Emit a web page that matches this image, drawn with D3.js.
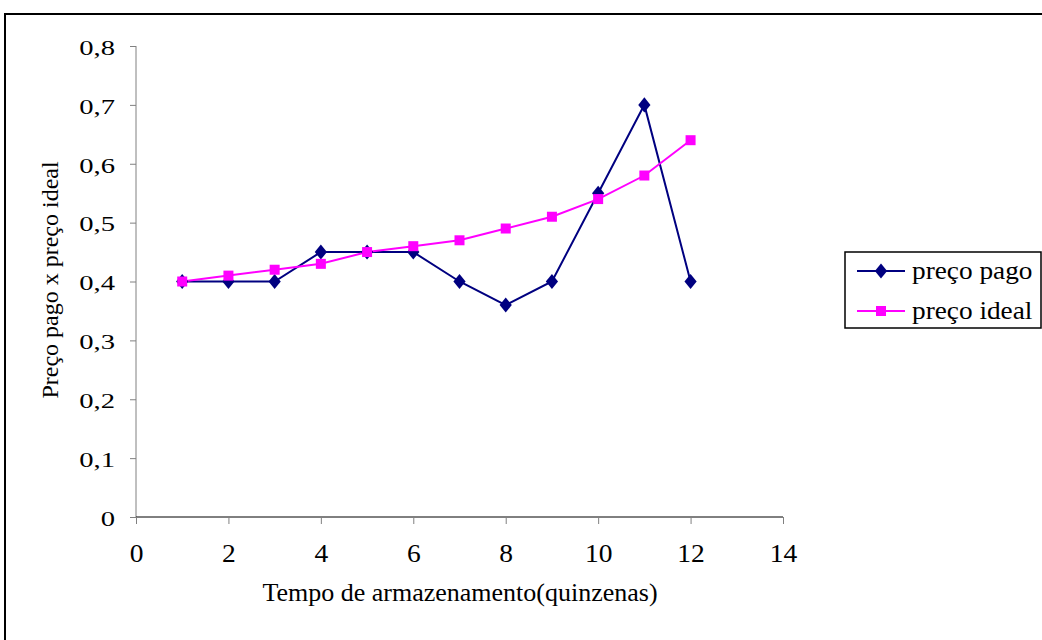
<!DOCTYPE html>
<html>
<head>
<meta charset="utf-8">
<script src="https://cdn.jsdelivr.net/npm/d3@7"></script>
<style>
  body { margin: 0; background: #fff; }
  svg text { font-family: "Liberation Serif", "Times New Roman", serif; fill: #000; }
</style>
</head>
<body>
<script>
const quinzenas = [1, 2, 3, 4, 5, 6, 7, 8, 9, 10, 11, 12];
const precoPago = [0.4, 0.4, 0.4, 0.45, 0.45, 0.45, 0.4, 0.36, 0.4, 0.55, 0.7, 0.4];
const precoIdeal = [0.4, 0.41, 0.42, 0.43, 0.45, 0.46, 0.47, 0.49, 0.51, 0.54, 0.58, 0.64];
const xTicks = [0, 2, 4, 6, 8, 10, 12, 14];
const yTicks = [0, 0.1, 0.2, 0.3, 0.4, 0.5, 0.6, 0.7, 0.8];

const width = 1042, height = 640;
const serif = '"Liberation Serif", "Times New Roman", serif';
const svg = d3.select('body').append('svg')
  .attr('width', width)
  .attr('height', height);

// the original picture is a bit wider than tall, stretch text horizontally
function stretch(sel, k) {
  sel.attr('transform', function() {
    const x0 = +d3.select(this).attr('x') || 0;
    return `translate(${x0},0) scale(${k},1) translate(${-x0},0)`;
  });
}

// outer frame (runs off the right and bottom edge)
svg.append('rect')
  .attr('x', 5).attr('y', 14)
  .attr('width', 1060).attr('height', 660)
  .attr('fill', 'none')
  .attr('stroke', '#000')
  .attr('stroke-width', 2);

const x = d3.scaleLinear().domain([0, 14]).range([136, 783]);
const y = d3.scaleLinear().domain([0, 0.8]).range([517, 46]);
const fmt = d => d === 0 ? '0' : d3.format('.1f')(d).replace('.', ',');

// y axis
const yAxis = svg.append('g')
  .attr('transform', 'translate(136,0)')
  .call(d3.axisLeft(y).tickValues(yTicks).tickSize(6).tickPadding(15).tickFormat(fmt));
yAxis.select('.domain').attr('stroke', '#808080').attr('d', 'M0,46V517');
yAxis.selectAll('.tick line').attr('stroke', '#808080');
yAxis.selectAll('.tick text')
  .attr('dy', '0.38em')
  .style('font-family', serif)
  .style('font-size', '22px')
  .style('fill', '#000')
  .call(stretch, 1.3);

// x axis
const xAxis = svg.append('g')
  .attr('transform', 'translate(0,517)')
  .call(d3.axisBottom(x).tickValues(xTicks).tickSize(7).tickPadding(20));
xAxis.select('.domain').attr('stroke', '#000').attr('d', 'M136,0H783');
xAxis.selectAll('.tick line').attr('stroke', '#808080');
xAxis.selectAll('.tick text')
  .style('font-family', serif)
  .style('font-size', '25px')
  .style('fill', '#000')
  .call(stretch, 1.1);

// axis titles
svg.append('text')
  .attr('x', 460).attr('y', 601)
  .attr('text-anchor', 'middle')
  .style('font-size', '26px')
  .text('Tempo de armazenamento(quinzenas)');
svg.append('text')
  .attr('transform', 'translate(58,280) rotate(-90)')
  .attr('text-anchor', 'middle')
  .style('font-size', '24px')
  .text('Preço pago x preço ideal');

const line = d3.line().x(d => x(d[0])).y(d => y(d[1]));

const pago = quinzenas.map((q, i) => [q, precoPago[i]]);
const ideal = quinzenas.map((q, i) => [q, precoIdeal[i]]);

svg.append('path').datum(pago)
  .attr('d', line).attr('fill', 'none')
  .attr('stroke', '#000080').attr('stroke-width', 2);
svg.append('path').datum(ideal)
  .attr('d', line).attr('fill', 'none')
  .attr('stroke', '#ff00ff').attr('stroke-width', 2);

const diamond = d3.symbol().type(d3.symbolDiamond).size(90);
svg.selectAll('.m-pago').data(pago).enter().append('path')
  .attr('class', 'm-pago')
  .attr('transform', d => `translate(${x(d[0])},${y(d[1])}) scale(1.2,0.85)`)
  .attr('d', diamond)
  .attr('fill', '#000080');

svg.selectAll('.m-ideal').data(ideal).enter().append('rect')
  .attr('class', 'm-ideal')
  .attr('x', d => x(d[0]) - 5)
  .attr('y', d => y(d[1]) - 5)
  .attr('width', 10).attr('height', 10)
  .attr('fill', '#ff00ff');

// legend
const legend = svg.append('g');
legend.append('rect')
  .attr('x', 845).attr('y', 252)
  .attr('width', 196).attr('height', 76)
  .attr('fill', '#fff')
  .attr('stroke', '#000').attr('stroke-width', 1.5);

const items = [
  { name: 'preço pago', color: '#000080', shape: 'diamond' },
  { name: 'preço ideal', color: '#ff00ff', shape: 'square' }
];
items.forEach((it, i) => {
  const cy = 271 + i * 40;
  legend.append('line')
    .attr('x1', 857).attr('x2', 905)
    .attr('y1', cy).attr('y2', cy)
    .attr('stroke', it.color).attr('stroke-width', 2);
  if (it.shape === 'diamond') {
    legend.append('path')
      .attr('transform', `translate(881,${cy}) scale(1.2,0.85)`)
      .attr('d', diamond).attr('fill', it.color);
  } else {
    legend.append('rect')
      .attr('x', 876).attr('y', cy - 5)
      .attr('width', 10).attr('height', 10)
      .attr('fill', it.color);
  }
  legend.append('text')
    .attr('x', 912).attr('y', cy + 8)
    .style('font-size', '26px')
    .call(stretch, 1.05)
    .text(it.name);
});
</script>
</body>
</html>
